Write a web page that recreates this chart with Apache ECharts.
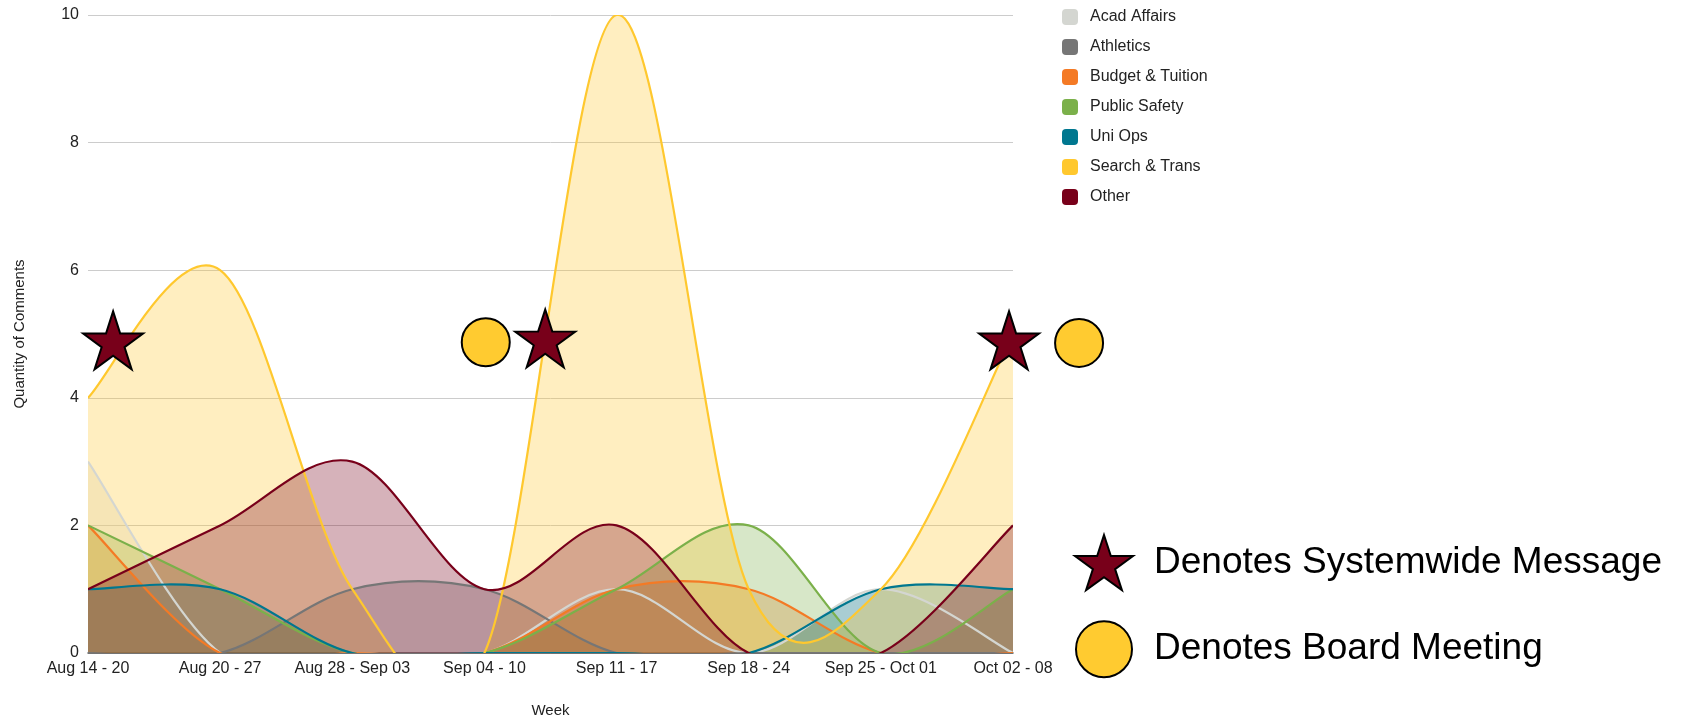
<!DOCTYPE html>
<html>
<head>
<meta charset="utf-8">
<script src="https://cdn.jsdelivr.net/npm/echarts@6/dist/echarts.min.js"></script>
<style>
  html, body { margin: 0; padding: 0; background: #fff; }
  #chart { width: 1682px; height: 719px; }
</style>
</head>
<body>
<div id="chart"></div>
<script>
// weekly comment counts per topic
const weeks = ['Aug 14 - 20', 'Aug 20 - 27', 'Aug 28 - Sep 03', 'Sep 04 - 10',
  'Sep 11 - 17', 'Sep 18 - 24', 'Sep 25 - Oct 01', 'Oct 02 - 08'];
const yTicks = [0, 2, 4, 6, 8, 10];

const acadAffairs = [3, 0, 0, 0, 1, 0, 1, 0];
const athletics = [0, 0, 1, 1, 0, 0, 0, 0];
const budgetTuition = [2, 0, 0, 0, 1, 1, 0, 0];
const publicSafety = [2, 1, 0, 0, 1, 2, 0, 1];
const uniOps = [1, 1, 0, 0, 0, 0, 1, 1];
const searchTrans = [4, 6, 1, 0, 10, 1, 1, 5];
const other = [1, 2, 3, 1, 2, 0, 0, 2];

// event markers: [week position, height on the count axis]
const systemwideMessages = [[0.19, 4.9], [3.46, 4.93], [6.97, 4.9]];
const boardMeetings = [[3.01, 4.87], [7.5, 4.86]];

const topics = [
  { name: 'Acad Affairs', data: acadAffairs, color: '#d4d6d1' },
  { name: 'Athletics', data: athletics, color: '#767676' },
  { name: 'Budget & Tuition', data: budgetTuition, color: '#f47a25' },
  { name: 'Public Safety', data: publicSafety, color: '#7bb04a' },
  { name: 'Uni Ops', data: uniOps, color: '#00778f' },
  { name: 'Search & Trans', data: searchTrans, color: '#ffc82e' },
  { name: 'Other', data: other, color: '#78001a' }
];

const starPath = 'path://M50 0 L61.23 34.55 L97.55 34.55 L68.16 55.9 L79.39 90.45 L50 69.1 L20.61 90.45 L31.84 55.9 L2.45 34.55 L38.77 34.55 Z';
const font = 'Arial, "Liberation Sans", sans-serif';

// catmull-rom curve through the points, drawn once per series, clipped to the grid.
// fills sit under every line (z2), like the original chart
function curveRenderer(values, color, order) {
  return function (params, api) {
    if (params.dataIndex !== 0) return;
    const pts = values.map((v, i) => api.coord([i, v]));
    const n = pts.length;
    const p = i => pts[Math.max(0, Math.min(n - 1, i))];
    let d = 'M' + pts[0][0] + ' ' + pts[0][1];
    for (let i = 0; i < n - 1; i++) {
      const p0 = p(i - 1), p1 = p(i), p2 = p(i + 1), p3 = p(i + 2);
      const c1x = p1[0] + (p2[0] - p0[0]) / 6, c1y = p1[1] + (p2[1] - p0[1]) / 6;
      const c2x = p2[0] - (p3[0] - p1[0]) / 6, c2y = p2[1] - (p3[1] - p1[1]) / 6;
      d += ' C' + c1x + ' ' + c1y + ' ' + c2x + ' ' + c2y + ' ' + p2[0] + ' ' + p2[1];
    }
    const base = api.coord([0, 0])[1];
    const fillPath = d + ' L' + pts[n - 1][0] + ' ' + base + ' L' + pts[0][0] + ' ' + base + ' Z';
    return {
      type: 'group',
      children: [
        { type: 'path', z2: order, shape: { pathData: fillPath }, style: { fill: color, opacity: 0.3 } },
        { type: 'path', z2: 100 + order, shape: { pathData: d }, style: { fill: 'none', stroke: color, lineWidth: 2.2 } }
      ]
    };
  };
}

const areaSeries = topics.map((t, k) => ({
  name: t.name,
  type: 'custom',
  data: t.data.map((v, i) => [i, v]),
  encode: { x: 0, y: 1 },
  clip: true,
  itemStyle: { color: t.color },
  renderItem: curveRenderer(t.data, t.color, k)
}));

const chart = echarts.init(document.getElementById('chart'));
chart.setOption({
  backgroundColor: '#fff',
  animation: false,
  textStyle: { fontFamily: font },
  grid: { left: 88, right: 669, top: 15, bottom: 66, outerBoundsMode: 'none', containLabel: false },
  legend: [
    {
      data: topics.map(t => ({ name: t.name, icon: 'roundRect' })),
      orient: 'vertical',
      left: 1057,
      top: 4,
      itemWidth: 16,
      itemHeight: 16,
      itemGap: 14,
      textStyle: { fontSize: 16, color: '#222', fontFamily: font, padding: [0, 0, 0, 7] }
    },
    {
      data: ['Denotes Systemwide Message', 'Denotes Board Meeting'],
      orient: 'vertical',
      left: 1069,
      top: 529,
      itemWidth: 58,
      itemHeight: 56,
      itemGap: 29,
      textStyle: { fontSize: 37, color: '#000', fontFamily: font, padding: [0, 0, 0, 16] }
    }
  ],
  xAxis: [
    {
      type: 'category',
      data: weeks,
      boundaryGap: false,
      name: 'Week',
      nameLocation: 'middle',
      nameGap: 50,
      nameTextStyle: { fontSize: 15, color: '#222' },
      axisTick: { show: false },
      axisLine: { lineStyle: { color: '#555', width: 1.5 } },
      axisLabel: { fontSize: 16, color: '#222', margin: 8, interval: 0 }
    },
    { type: 'value', min: 0, max: 7, show: false }
  ],
  yAxis: {
    type: 'value',
    min: yTicks[0],
    max: yTicks[yTicks.length - 1],
    interval: 2,
    name: 'Quantity of Comments',
    nameLocation: 'middle',
    nameGap: 61,
    nameTextStyle: { fontSize: 15, color: '#222' },
    axisLine: { show: false },
    axisTick: { show: false },
    axisLabel: { fontSize: 16, color: '#222', margin: 9 },
    splitLine: { lineStyle: { color: '#cccccc', width: 1 } }
  },
  series: areaSeries.concat([
    {
      name: 'Denotes Systemwide Message',
      type: 'scatter',
      xAxisIndex: 1,
      data: systemwideMessages,
      symbol: starPath,
      symbolSize: [60, 58],
      clip: false,
      z: 5,
      itemStyle: { color: '#78001a', borderColor: '#000', borderWidth: 2, opacity: 1 }
    },
    {
      name: 'Denotes Board Meeting',
      type: 'scatter',
      xAxisIndex: 1,
      data: boardMeetings,
      symbol: 'circle',
      symbolSize: 48,
      clip: false,
      z: 5,
      itemStyle: { color: '#ffcb30', borderColor: '#000', borderWidth: 2, opacity: 1 }
    }
  ])
});
</script>
</body>
</html>
